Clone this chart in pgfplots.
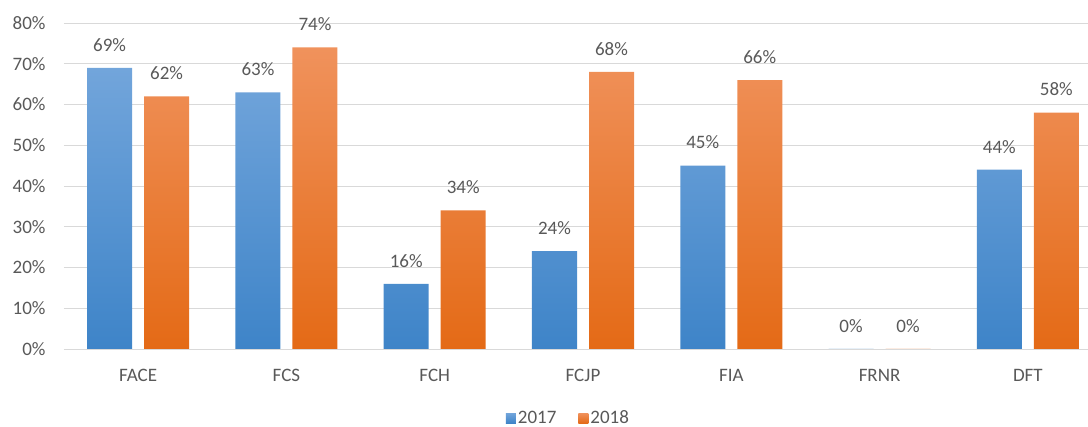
\documentclass[border=0pt]{standalone}
\usepackage{pgfplots}
\pgfplotsset{compat=1.18}
\usepackage{fontspec}
\setmainfont{Carlito}
\definecolor{txt}{RGB}{89,89,89}
\definecolor{gridc}{RGB}{217,217,217}
\definecolor{bTop}{RGB}{114,165,219}
\definecolor{bBot}{RGB}{62,132,200}
\definecolor{oTop}{RGB}{240,146,92}
\definecolor{oBot}{RGB}{228,106,22}
\begin{document}
\begin{tikzpicture}
\useasboundingbox (-64pt,-78pt) rectangle (1024pt,349pt);
\begin{axis}[
  at={(0,0)}, anchor=south west,
  scale only axis, width=1038pt, height=326pt,
  xmin=-0.5, xmax=6.5, ymin=0, ymax=80,
  ybar, bar width=45pt,
  xtick=data,
  xticklabels={FACE,FCS,FCH,FCJP,FIA,FRNR,DFT},
  ytick={0,10,...,80},
  yticklabel={\pgfmathprintnumber{\tick}\%},
  /pgf/number format/assume math mode=true,
  axis line style={draw=none},
  major tick length=0pt,
  ymajorgrids, grid style={gridc, line width=0.8pt},
  tick label style={font=\fontsize{19}{21}\selectfont, text=txt},
  xticklabel style={yshift=-17pt},
  yticklabel style={xshift=-15pt},
  nodes near coords={\pgfmathprintnumber{\pgfplotspointmeta}\%},
  nodes near coords style={font=\fontsize{19}{21}\selectfont, text=txt, yshift=13pt},
  legend style={at={(0.486,-0.212)}, anchor=center, draw=none, legend columns=-1,
    font=\fontsize{19}{21}\selectfont, text=txt,
    /tikz/every even column/.append style={column sep=20pt}},
  legend image code/.code={\path[#1,draw=none] (0pt,-5pt) rectangle (10pt,5pt);},
]
\addplot[draw=none, bar shift=-28.5pt, top color=bTop, bottom color=bBot] coordinates {(0,69) (1,63) (2,16) (3,24) (4,45) (5,0) (6,44)};
\addplot[draw=none, bar shift=28.5pt, top color=oTop, bottom color=oBot] coordinates {(0,62) (1,74) (2,34) (3,68) (4,66) (5,0) (6,58)};
\legend{2017,2018}
\end{axis}
\end{tikzpicture}
\end{document}
